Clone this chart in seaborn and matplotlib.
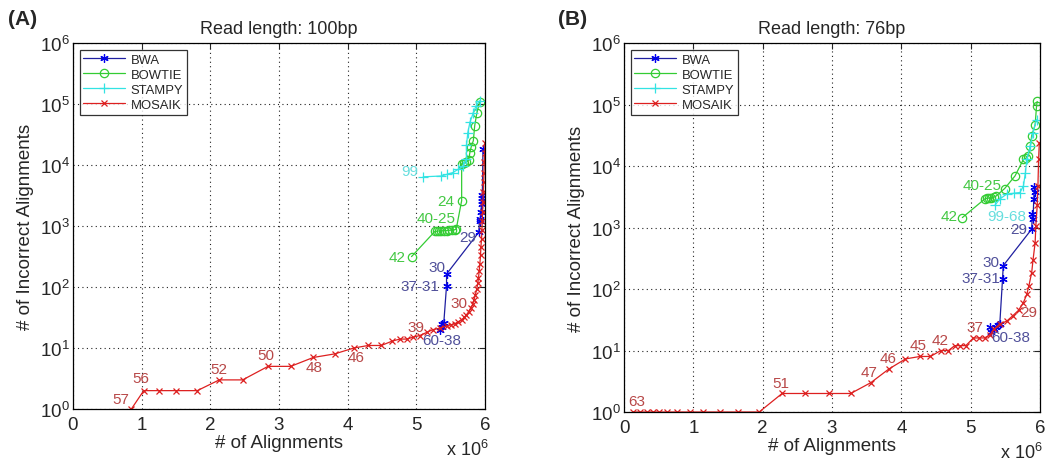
import numpy as np
import pandas as pd
import seaborn as sns
import matplotlib.pyplot as plt
from matplotlib.ticker import NullLocator

# x values in millions of alignments, y = number of incorrect alignments

# (A) read length 100bp
bwa_a_x = [5.35, 5.37, 5.38, 5.40, 5.44, 5.44, 5.91, 5.92, 5.93, 5.94, 5.95, 5.95, 5.96, 5.96, 5.97]
bwa_a_y = [20, 22, 25, 26, 105, 163, 790, 1300, 1200, 1700, 2300, 2900, 3200, 2600, 18000]

bowtie_a_x = [4.93, 5.27, 5.30, 5.33, 5.36, 5.40, 5.44, 5.48, 5.52, 5.56, 5.58, 5.66, 5.66,
              5.70, 5.73, 5.76, 5.78, 5.80, 5.83, 5.85, 5.88, 5.92]
bowtie_a_y = [315, 815, 820, 830, 830, 840, 840, 850, 860, 870, 880, 2600, 10500,
              10800, 11000, 12000, 16000, 20000, 25000, 44000, 70000, 107000]

stampy_a_x = [5.10, 5.36, 5.44, 5.53, 5.61, 5.68, 5.73, 5.73, 5.75, 5.78, 5.83, 5.87, 5.92]
stampy_a_y = [6400, 6600, 7000, 7500, 8500, 9500, 12500, 21000, 34000, 50000, 72000, 93000, 113000]

mosaik_a_x = [0.85, 1.03, 1.25, 1.50, 1.81, 2.13, 2.47, 2.84, 3.17, 3.50, 3.81, 4.09, 4.30,
              4.49, 4.65, 4.76, 4.86, 4.95, 5.05, 5.15, 5.24, 5.34, 5.44, 5.50, 5.56, 5.61,
              5.66, 5.70, 5.73, 5.76, 5.79, 5.82, 5.84, 5.86, 5.88, 5.895, 5.905, 5.915,
              5.925, 5.935, 5.94, 5.95, 5.955, 5.96, 5.965, 5.97, 5.975, 5.98, 5.985, 5.99,
              5.995, 6.0]
mosaik_a_y = [1, 2, 2, 2, 2, 3, 3, 5, 5, 7, 8, 10, 11,
              11, 13, 14, 14, 15, 16, 18, 20, 21, 23, 24, 25, 27,
              29, 32, 35, 39, 45, 52, 62, 75, 92, 115, 140, 180,
              240, 330, 450, 620, 850, 1200, 1700, 2500, 3600, 5200, 7500, 11000,
              16000, 23000]

# (B) read length 76bp
bwa_b_x = [5.28, 5.30, 5.33, 5.36, 5.40, 5.42, 5.46, 5.47, 5.88, 5.89, 5.90, 5.91, 5.92, 5.93]
bwa_b_y = [24, 20, 22, 24, 26, 27, 148, 240, 940, 1660, 1400, 2900, 4500, 3800]

bowtie_b_x = [4.88, 5.21, 5.24, 5.27, 5.30, 5.33, 5.36, 5.49, 5.64, 5.76, 5.80, 5.83, 5.86,
              5.88, 5.93, 5.95, 5.96]
bowtie_b_y = [1450, 2950, 3000, 3000, 3050, 3100, 3200, 4300, 6900, 12800, 13500, 14500, 21000,
              31000, 47000, 94000, 112000]

stampy_b_x = [5.35, 5.42, 5.52, 5.62, 5.71, 5.76, 5.79, 5.81, 5.86, 5.90, 5.95]
stampy_b_y = [2300, 2900, 3500, 3600, 3700, 4700, 7800, 13000, 21000, 35000, 57000]

mosaik_b_x = [0.13, 0.23, 0.33, 0.42, 0.50, 0.62, 0.76, 0.95, 1.14, 1.38, 1.65, 1.95,
              2.28, 2.61, 2.95, 3.27, 3.56, 3.82, 4.06, 4.27, 4.42, 4.57, 4.68, 4.77,
              4.84, 4.93, 5.04, 5.12, 5.20, 5.28, 5.33, 5.42, 5.52, 5.61, 5.69, 5.76,
              5.81, 5.84, 5.88, 5.90, 5.93, 5.94, 5.96, 5.97, 5.98, 5.99]
mosaik_b_y = [1, 1, 1, 1, 1, 1, 1, 1, 1, 1, 1, 1,
              2, 2, 2, 2, 3, 5, 7.3, 8, 8, 10, 10, 12,
              12, 12, 16, 16, 16, 18, 22, 27, 30, 37, 45, 60,
              82, 113, 185, 300, 570, 1070, 2300, 4700, 13000, 24000]

# seed-length labels: (aligner, point index, text)
labels_a = [('MOSAIK', 0, '57'), ('MOSAIK', 1, '56'), ('MOSAIK', 5, '52'), ('MOSAIK', 7, '50'),
            ('MOSAIK', 9, '48'), ('MOSAIK', 11, '46'), ('MOSAIK', 18, '39'), ('MOSAIK', 31, '30'),
            ('BWA', 0, '60-38'), ('BWA', 4, '37-31'), ('BWA', 5, '30'), ('BWA', 6, '29'),
            ('BOWTIE', 0, '42'), ('BOWTIE', 1, '40-25'), ('BOWTIE', 11, '24'),
            ('STAMPY', 0, '99')]
labels_b = [('MOSAIK', 0, '63'), ('MOSAIK', 12, '51'), ('MOSAIK', 16, '47'), ('MOSAIK', 17, '46'),
            ('MOSAIK', 19, '45'), ('MOSAIK', 21, '42'), ('MOSAIK', 26, '37'), ('MOSAIK', 34, '29'),
            ('BWA', 1, '60-38'), ('BWA', 6, '37-31'), ('BWA', 7, '30'), ('BWA', 8, '29'),
            ('BOWTIE', 0, '42'), ('BOWTIE', 7, '40-25'),
            ('STAMPY', 0, '99-68')]

aligners = ['BWA', 'BOWTIE', 'STAMPY', 'MOSAIK']

# label offsets in points
offsets_a = [(-7, 7), (-1.7, 9), (0, 7.7), (-1.2, 8.2), (0.7, -7.2), (1.9, -6.2), (-2.4, 6), (-9.4, 0.7),
             (1, -7.2), (-18.2, 0), (-6.7, 5.3), (-7.7, -3.6),
             (-9.8, 0), (1, 9.4), (-11, 0),
             (-9.4, 4.3)]
offsets_b = [(2.6, 7.7), (-0.7, 7.4), (-1, 7.7), (-0.5, 7.9), (-1.2, 7.9), (-0.7, 7.9), (1.2, 8.2), (7, -1),
             (13, -3.8), (-15, 0.7), (-8.4, 2.4), (-8.9, 0),
             (-8.9, 1.2), (-15.3, 2.2),
             (7.9, -7.7)]

line_col = {'BWA': '#1f1fa0', 'BOWTIE': '#33cc33', 'STAMPY': '#33e3e3', 'MOSAIK': '#dd2020'}
mark_col = {'BWA': '#0000ee', 'BOWTIE': '#33cc33', 'STAMPY': '#33e3e3', 'MOSAIK': '#dd2020'}
text_col = {'BWA': '#50509a', 'BOWTIE': '#44c844', 'STAMPY': '#66dede', 'MOSAIK': '#b84848'}
marker = {'BWA': (6, 2, 0), 'BOWTIE': 'o', 'STAMPY': '+', 'MOSAIK': 'x'}
msize = {'BWA': 6, 'BOWTIE': 6, 'STAMPY': 6.5, 'MOSAIK': 4.5}

sns.set_style('white')
plt.rcParams['font.family'] = ['Liberation Sans', 'DejaVu Sans']
plt.rcParams['mathtext.fontset'] = 'custom'
plt.rcParams['mathtext.rm'] = 'Liberation Sans'
plt.rcParams['mathtext.default'] = 'regular'


def draw_panel(ax, data, labels, offsets, title, xnote):
    for name in aligners:
        xs, ys = data[name]
        sns.lineplot(x=xs, y=ys, ax=ax, sort=False, estimator=None,
                     color=line_col[name], linewidth=0.9, label=name,
                     marker=marker[name], markersize=msize[name],
                     markeredgecolor=mark_col[name],
                     markerfacecolor='none' if name == 'BOWTIE' else mark_col[name],
                     markeredgewidth=0.9)
    for (name, i, txt), (dx, dy) in zip(labels, offsets):
        xs, ys = data[name]
        ax.annotate(txt, xy=(xs[i], ys[i]), xytext=(dx * 1.05, dy), textcoords='offset points',
                    ha='center', va='center', fontsize=11, color=text_col[name])
    ax.set_yscale('log')
    ax.set_xlim(0, 6)
    ax.set_ylim(1, 1e6)
    ax.set_xticks(range(7))
    ax.set_yticks([10.0 ** k for k in range(7)])
    ax.set_yticklabels([r'$10^{%d}$' % k for k in range(7)])
    ax.yaxis.set_minor_locator(NullLocator())
    ax.tick_params(direction='in', top=True, right=True, length=4, width=0.8, labelsize=13.5)
    ax.tick_params(axis='x', pad=5)
    ax.tick_params(axis='y', pad=2.5)
    ax.grid(True, color='#222222', linestyle=(0, (1, 3)), linewidth=0.8)
    for s in ax.spines.values():
        s.set_color('black')
        s.set_linewidth(0.9)
    ax.set_xlabel('# of Alignments', fontsize=13.5, labelpad=1)
    ax.set_ylabel('# of Incorrect Alignments', fontsize=13.5, labelpad=4)
    ax.set_title(title, fontsize=13, pad=7)
    ax.text(xnote, -0.108, r'x $10^{6}$', transform=ax.transAxes, ha='right', va='center',
            fontsize=13)
    leg = ax.legend(loc='upper left', fontsize=9.4, handlelength=3.2, numpoints=1, frameon=True,
                    fancybox=False, edgecolor='black', borderpad=0.3, labelspacing=0.22,
                    handletextpad=0.4, borderaxespad=0.5)
    leg.get_frame().set_linewidth(0.9)


data_a = {'BWA': (bwa_a_x, bwa_a_y), 'BOWTIE': (bowtie_a_x, bowtie_a_y),
          'STAMPY': (stampy_a_x, stampy_a_y), 'MOSAIK': (mosaik_a_x, mosaik_a_y)}
data_b = {'BWA': (bwa_b_x, bwa_b_y), 'BOWTIE': (bowtie_b_x, bowtie_b_y),
          'STAMPY': (stampy_b_x, stampy_b_y), 'MOSAIK': (mosaik_b_x, mosaik_b_y)}

fig = plt.figure(figsize=(10.45, 4.64), dpi=100)
ax_a = fig.add_axes([73 / 1045, 1 - 410 / 464, 412 / 1045, 366 / 464])
ax_b = fig.add_axes([624 / 1045, 1 - 413 / 464, 416 / 1045, 369 / 464])

draw_panel(ax_a, data_a, labels_a, offsets_a, 'Read length: 100bp', 1.01)
draw_panel(ax_b, data_b, labels_b, offsets_b, 'Read length: 76bp', 1.006)

fig.text(0.008, 0.957, '(A)', fontsize=15, fontweight='bold', va='center')
fig.text(0.534, 0.957, '(B)', fontsize=15, fontweight='bold', va='center')

fig.savefig('out.png', dpi=100)
